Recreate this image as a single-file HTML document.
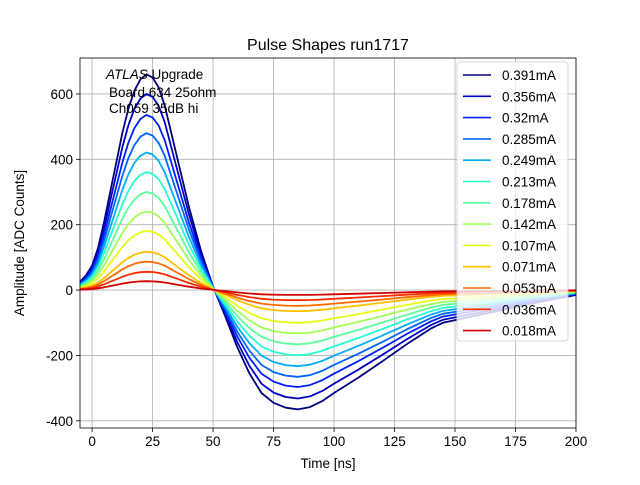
<!DOCTYPE html>
<html><head><meta charset="utf-8"><style>
body{margin:0;background:#fff;font-family:"Liberation Sans",sans-serif}
svg text{font-family:"Liberation Sans","DejaVu Sans",sans-serif}
</style></head><body>
<svg id="c" width="640" height="480" xmlns="http://www.w3.org/2000/svg">
<rect width="640" height="480" fill="#fff"/>
<g id="grid"></g><g id="series"></g><g id="axes"></g><g id="legend"></g>
<text x="328" y="50" font-size="16" text-anchor="middle">Pulse Shapes run1717</text>
<text x="328" y="468" font-size="13.5" text-anchor="middle">Time [ns]</text>
<text transform="translate(24,243) rotate(-90)" font-size="13.5" text-anchor="middle">Amplitude [ADC Counts]</text>
<g font-size="13.5">
<text x="106" y="79"><tspan font-style="italic">ATLAS</tspan> Upgrade</text>
<text x="109" y="97">Board 634 25ohm</text>
<text x="109" y="113">Ch059 35dB hi</text>
</g>
</svg>
<script>
const times=[-5,-2.5,0,2.5,5,7.5,10,12.5,15,17.5,20,22.5,25,27.5,30,35,40,45,50,55,60,65,70,75,80,85,90,95,100,110,120,130,140,145,150,160,170,180,190,200];
const baseShape=[25,45,75,130,210,300,390,480,555,610,645,660,650,620,565,410,255,120,10,-80,-175,-255,-315,-345,-360,-365,-358,-340,-315,-268,-218,-166,-118,-100,-92,-76,-60,-44,-29,-15];
const labels=["0.391mA","0.356mA","0.32mA","0.285mA","0.249mA","0.213mA","0.178mA","0.142mA","0.107mA","0.071mA","0.053mA","0.036mA","0.018mA"];
const peaks=[660,600,536,480,421,361,300,240,181,117,87,56,27];
const colors=["#00007f","#0000c4","#0020ff","#0064ff","#00acff","#26ffd0","#5cff9a","#a0ff56","#e4ff12","#ffc000","#ff6a00","#ff2a00","#d20000"];
const xTicks=[0,25,50,75,100,125,150,175,200];
const yTicks=[-400,-200,0,200,400,600];
const X0=80,X1=576,Y0=58,Y1=428,xmin=-5,xmax=200,ymin=-422,ymax=710;
const sx=v=>X0+(v-xmin)/(xmax-xmin)*(X1-X0);
const sy=v=>Y1-(v-ymin)/(ymax-ymin)*(Y1-Y0);
const NS="http://www.w3.org/2000/svg";
function mk(tag,at,parent){const e=document.createElementNS(NS,tag);for(const k in at)e.setAttribute(k,at[k]);parent.appendChild(e);return e;}
const grid=document.getElementById('grid'),axes=document.getElementById('axes'),ser=document.getElementById('series'),leg=document.getElementById('legend');
xTicks.forEach(t=>{
 const l=mk('line',{x1:sx(t),x2:sx(t),y1:Y0,y2:Y1,stroke:'#b0b0b0','stroke-width':0.8},grid);
 
 
 mk('line',{x1:sx(t),x2:sx(t),y1:Y1,y2:Y1+4,stroke:'#000','stroke-width':0.8},axes);
 const tx=mk('text',{x:sx(t),y:Y1+18,'font-size':13.5,'text-anchor':'middle'},axes);tx.textContent=t;
 
 
});
yTicks.forEach(t=>{
 const l=mk('line',{x1:X0,x2:X1,y1:sy(t),y2:sy(t),stroke:'#b0b0b0','stroke-width':0.8},grid);
 
 
 mk('line',{x1:X0-4,x2:X0,y1:sy(t),y2:sy(t),stroke:'#000','stroke-width':0.8},axes);
 const tx=mk('text',{x:X0-7,y:sy(t)+5,'font-size':13.5,'text-anchor':'end'},axes);tx.textContent=t;
 
 
});
const fr=mk('rect',{x:X0,y:Y0,width:X1-X0,height:Y1-Y0,fill:'none',stroke:'#000','stroke-width':0.8},axes);


const bPeak=660;
peaks.forEach((p,i)=>{
 const k=p/bPeak;
 const d=times.map((t,j)=>(j?'L':'M')+sx(t).toFixed(1)+','+sy(baseShape[j]*k).toFixed(1)).join(' ');
 const pa=mk('path',{d:d,fill:'none',stroke:colors[i],'stroke-width':1.8,'stroke-linejoin':'round'},ser);
 
 
});
const lb=mk('rect',{x:457,y:62,width:111,height:279,rx:3,fill:'#fff','fill-opacity':0.8,stroke:'#ccc','stroke-width':0.8},leg);


labels.forEach((s,i)=>{
 const y=75+i*21.3;
 const g=mk('g',{},leg);
 
 
 mk('line',{x1:463,x2:491,y1:y,y2:y,stroke:colors[i],'stroke-width':1.6},g);
 const t=mk('text',{x:502,y:y+5,'font-size':13.5},g);t.textContent=s;
});
</script>
</body></html>
